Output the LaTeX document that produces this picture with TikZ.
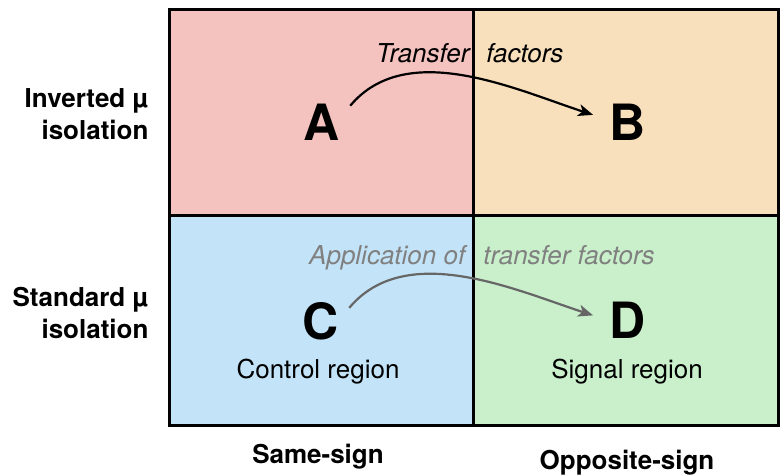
\documentclass[tikz,border=0pt]{standalone}
\usepackage{fontspec}
\setmainfont{TeX Gyre Heros}
\usepackage{tikz}
\usetikzlibrary{arrows.meta}
\definecolor{cellA}{HTML}{F4C2BF}
\definecolor{cellB}{HTML}{F9E0BD}
\definecolor{cellC}{HTML}{C3E4F8}
\definecolor{cellD}{HTML}{C9F0CB}
\tikzstyle{letter} = [font=\fontsize{50}{50}\selectfont\bfseries, inner sep=10pt]
\tikzstyle{rowlab} = [font=\fontsize{26}{32}\selectfont\bfseries, align=right, anchor=east]
\tikzstyle{collab} = [font=\fontsize{26}{30}\selectfont\bfseries, anchor=base]
\tikzstyle{region} = [font=\fontsize{26}{30}\selectfont, anchor=base]
\tikzstyle{tfnote} = [font=\fontsize{26}{30}\selectfont\itshape, anchor=base west, inner sep=0pt]
\tikzstyle{tfarrow} = [line width=2.2pt, shorten >=7pt, -{Stealth[length=15pt,width=12pt,inset=4pt]}]

\begin{document}
\begin{tikzpicture}[x=1pt,y=-1pt]
\useasboundingbox (0,0) rectangle (781,475);

    % the four cells
    \fill[cellA] (169,9) rectangle (473,215);
    \fill[cellB] (473,9) rectangle (778,215);
    \fill[cellC] (169,215) rectangle (473,425);
    \fill[cellD] (473,215) rectangle (778,425);

    \draw[line width=3pt] (169,9) rectangle (778,425);
    \draw[line width=3pt] (473,9) -- (473,425);
    \draw[line width=3pt] (169,215) -- (778,215);

    \node[letter] (A) at (322,122) {A};
    \node[letter] (B) at (628,122) {B};
    \node[letter] (C) at (321,321) {C};
    \node[letter] (D) at (628,320) {D};

    \node[region] (ctrl) at (318,378) {Control region};
    \node[region] (sig) at (627,378) {Signal region};

    \node[tfnote] (tf) at (376,62) {Transfer\hspace{17pt}factors};
    \node[tfnote, text=black!50] (atf) at (309,264) {Application of\hspace{18pt}transfer factors};

    \draw[tfarrow] (A.30) to[out=50,in=162,looseness=0.9] (B.170);
    \draw[tfarrow, black!60] (C.25) to[out=50,in=162,looseness=0.9] (D.175);

    \node[rowlab] (inv) at (152,114) {Inverted µ\\isolation};
    \node[rowlab] (std) at (152,313) {Standard µ\\isolation};

    \node[collab] (same) at (318,463) {Same-sign};
    \node[collab] (opp) at (627,469) {Opposite-sign};
\end{tikzpicture}
\end{document}
